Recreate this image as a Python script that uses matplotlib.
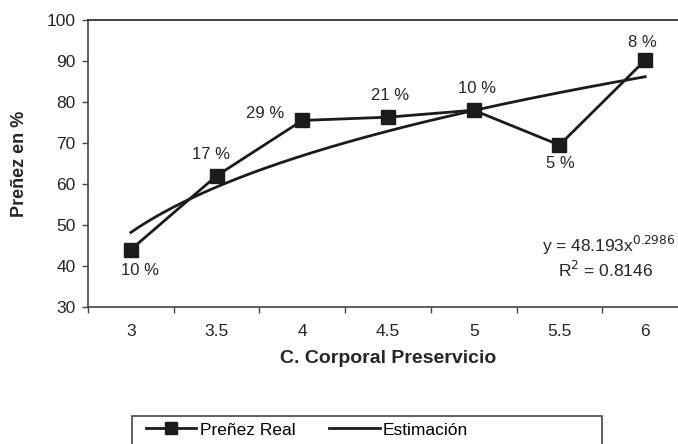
import numpy as np
import matplotlib
matplotlib.use("Agg")
import matplotlib.pyplot as plt
from matplotlib.lines import Line2D
from matplotlib.patches import Rectangle

plt.rcParams['font.family'] = ['Liberation Sans', 'DejaVu Sans']

# ---- data ----
categories = ["3", "3.5", "4", "4.5", "5", "5.5", "6"]
prenez_real = [44, 62, 75.5, 76.3, 78, 69.5, 90.2]
point_labels = ["10 %", "17 %", "29 %", "21 %", "10 %", "5 %", "8 %"]
# power trendline as shown in the chart (Excel: x = category index 1..7)
trend_a = 48.193
trend_b = 0.2986
trend_r2 = 0.8146
y_ticks = [30, 40, 50, 60, 70, 80, 90, 100]

W, H = 678, 444
fig = plt.figure(figsize=(W / 100, H / 100), dpi=100)
fig.patch.set_facecolor("white")

left_px, right_px, top_px, bottom_px = 88, 688, 20, 307
ax = fig.add_axes([left_px / W, 1 - bottom_px / H,
                   (right_px - left_px) / W, (bottom_px - top_px) / H])

xpos = np.arange(len(categories))
dark = "#1c1c1c"
txt = "#262626"

ax.plot(xpos, prenez_real, color=dark, lw=2.0, marker="s", ms=10,
        mfc=dark, mec=dark, zorder=3, clip_on=False)

xs = np.linspace(0, len(categories) - 1, 200)
ax.plot(xs, trend_a * (xs + 1) ** trend_b, color=dark, lw=2.0, zorder=2)

# point labels (offsets in pixels)
offsets = [(9, -21), (-6, 21), (-37, 7), (2, 22), (3, 22), (1, -18), (-3, 18)]
for x, y, lab, (dx, dy) in zip(xpos, prenez_real, point_labels, offsets):
    ax.annotate(lab, (x, y), xytext=(dx, dy), textcoords="offset pixels",
                ha="center", va="center", fontsize=12, color=txt)

ax.set_xlim(-0.5, len(categories) - 0.5)
ax.set_ylim(30, 100)
ax.set_yticks(y_ticks)
ax.set_xticks(xpos)
ax.set_xticklabels(categories)
ax.set_xticks(np.arange(-0.5, len(categories), 1.0), minor=True)
ax.tick_params(axis="x", which="major", length=0, pad=12, labelsize=12.5,
               labelcolor=txt)
ax.tick_params(axis="x", which="minor", length=4, width=1, color="#444444",
               direction="out")
ax.tick_params(axis="y", length=4, width=1, pad=5, labelsize=12.5,
               color="#444444", labelcolor=txt, direction="out")

for s in ["left", "bottom"]:
    ax.spines[s].set_color("#444444")
    ax.spines[s].set_linewidth(1.2)
ax.spines["top"].set_color("#333333")
ax.spines["top"].set_linewidth(1.3)
ax.spines["right"].set_visible(False)

ax.set_xlabel("C. Corporal Preservicio", fontsize=14, fontweight="bold",
              color=txt, labelpad=8)
ax.set_ylabel("Preñez en %", fontsize=13, fontweight="bold",
              color=txt, labelpad=13)

# trendline equation
fig.text(675 / W, 1 - 245 / H, f"y = {trend_a}x$^{{{trend_b}}}$",
         ha="right", va="center", fontsize=12.5, color=txt)
fig.text(606 / W, 1 - 270 / H, f"R$^2$ = {trend_r2}",
         ha="center", va="center", fontsize=12.5, color=txt)

# legend box and entries
fig.patches.append(Rectangle((132 / W, -0.05), (602 - 132) / W,
                             (1 - 416 / H) + 0.05, transform=fig.transFigure,
                             fill=False, ec="#444444", lw=1.2))
handles = [Line2D([], [], color=dark, lw=2, marker="s", ms=8, mfc=dark, mec=dark),
           Line2D([], [], color=dark, lw=2)]
fig.legend(handles, ["Preñez Real", "Estimación"], ncol=2, frameon=False,
           loc="center left", bbox_to_anchor=(146 / W, 1 - 430 / H),
           fontsize=12.5, handlelength=2.9, handletextpad=0.2,
           columnspacing=1.95, borderaxespad=0, borderpad=0)

fig.savefig("out.png", dpi=100, facecolor="white")
